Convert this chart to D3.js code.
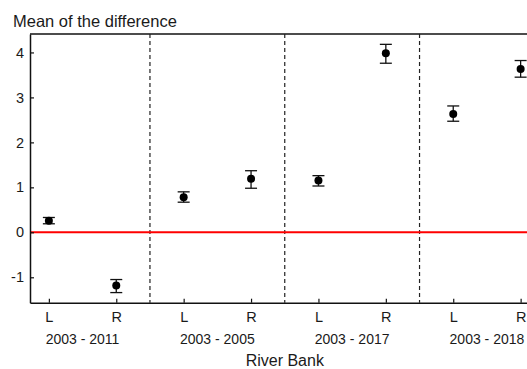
<!DOCTYPE html>
<html>
<head>
<meta charset="utf-8">
<script src="https://cdn.jsdelivr.net/npm/d3@7"></script>
<style>
  body { margin: 0; background: #fff; }
  svg text { font-family: "Liberation Sans", Arial, sans-serif; fill: #1a1a1a; }
</style>
</head>
<body>
<div id="chart"></div>
<script>
// Data
let periods = ["2003 - 2011", "2003 - 2005", "2003 - 2017", "2003 - 2018"];
let banks = ["L", "R"];
let means = [0.26, -1.18, 0.78, 1.19, 1.15, 3.98, 2.63, 3.63];
let lower = [0.19, -1.34, 0.67, 0.98, 1.03, 3.76, 2.47, 3.45];
let upper = [0.33, -1.05, 0.90, 1.37, 1.26, 4.18, 2.81, 3.82];
let yTicks = [-1, 0, 1, 2, 3, 4];

let width = 527;
let height = 369;

let svg = d3.select("#chart")
            .append("svg")
            .attr("width", width)
            .attr("height", height);

// one slot per bank within each period
let n = periods.length * banks.length;
let xScale = d3.scaleLinear()
               .domain([-0.28, n - 1 + 0.28])
               .range([30, 539.5]);

let yScale = d3.scaleLinear()
               .domain([-1.565, 4.41])
               .range([302.7, 34]);

let points = means.map((m, i) => ({
    i: i,
    bank: banks[i % 2],
    mean: m,
    lo: lower[i],
    hi: upper[i]
}));

// top frame line
svg.append("line")
    .attr("x1", xScale.range()[0]).attr("x2", xScale.range()[1])
    .attr("y1", yScale.range()[1]).attr("y2", yScale.range()[1])
    .attr("stroke", "#111").attr("stroke-width", 1.5);

// dashed separators between periods
svg.selectAll(".sep")
    .data(d3.range(1, periods.length))
    .enter()
    .append("line")
    .attr("class", "sep")
    .attr("x1", d => xScale(d * 2 - 0.5))
    .attr("x2", d => xScale(d * 2 - 0.5))
    .attr("y1", yScale.range()[1])
    .attr("y2", yScale.range()[0])
    .attr("stroke", "#222")
    .attr("stroke-width", 1.2)
    .attr("stroke-dasharray", "4,3");

// zero line
svg.append("line")
    .attr("x1", xScale.range()[0]).attr("x2", xScale.range()[1])
    .attr("y1", yScale(0)).attr("y2", yScale(0))
    .attr("stroke", "#ff0000").attr("stroke-width", 2);

// axes
let yAxis = d3.axisLeft(yScale)
              .tickValues(yTicks)
              .tickFormat(d => String(d)) // plain hyphen for negatives
              .tickSizeInner(-4)
              .tickSizeOuter(0)
              .tickPadding(6);

let xAxis = d3.axisBottom(xScale)
              .tickValues(d3.range(n))
              .tickFormat(d => banks[d % 2])
              .tickSizeInner(-4)
              .tickSizeOuter(0)
              .tickPadding(9);

svg.append("g")
    .attr("id", "y-axis")
    .attr("transform", "translate(" + xScale.range()[0] + ",0)")
    .call(yAxis);

svg.append("g")
    .attr("id", "x-axis")
    .attr("transform", "translate(0," + yScale.range()[0] + ")")
    .call(xAxis);

svg.selectAll(".domain").attr("stroke", "#111").attr("stroke-width", 1.5);
svg.selectAll(".tick line").attr("stroke", "#111").attr("stroke-width", 1.2);
svg.selectAll(".tick text")
    .style("font-size", "14.5px")
    .attr("fill", "#1a1a1a");

// error bars
let bars = svg.selectAll(".err")
              .data(points)
              .enter()
              .append("g")
              .attr("class", "err")
              .attr("stroke", "#111")
              .attr("stroke-width", 1.3);

bars.append("line")
    .attr("x1", d => xScale(d.i)).attr("x2", d => xScale(d.i))
    .attr("y1", d => yScale(d.lo)).attr("y2", d => yScale(d.hi));
bars.append("line")
    .attr("x1", d => xScale(d.i) - 6).attr("x2", d => xScale(d.i) + 6)
    .attr("y1", d => yScale(d.lo)).attr("y2", d => yScale(d.lo));
bars.append("line")
    .attr("x1", d => xScale(d.i) - 6).attr("x2", d => xScale(d.i) + 6)
    .attr("y1", d => yScale(d.hi)).attr("y2", d => yScale(d.hi));

// means
svg.selectAll(".pt")
    .data(points)
    .enter()
    .append("circle")
    .attr("class", "pt")
    .attr("cx", d => xScale(d.i))
    .attr("cy", d => yScale(d.mean))
    .attr("r", 4)
    .attr("fill", "#000");

// period labels
svg.selectAll(".period")
    .data(periods)
    .enter()
    .append("text")
    .attr("class", "period")
    .attr("x", (d, i) => xScale(i * 2 + 0.5))
    .attr("y", 344)
    .attr("text-anchor", "middle")
    .style("font-size", "14px")
    .text(d => d);

// axis title
svg.append("text")
    .attr("x", xScale((n - 1) / 2))
    .attr("y", 366)
    .attr("text-anchor", "middle")
    .style("font-size", "16px")
    .text("River Bank");

// chart title
svg.append("text")
    .attr("x", 13)
    .attr("y", 26.5)
    .style("font-size", "16.5px")
    .text("Mean of the difference");
</script>
</body>
</html>
